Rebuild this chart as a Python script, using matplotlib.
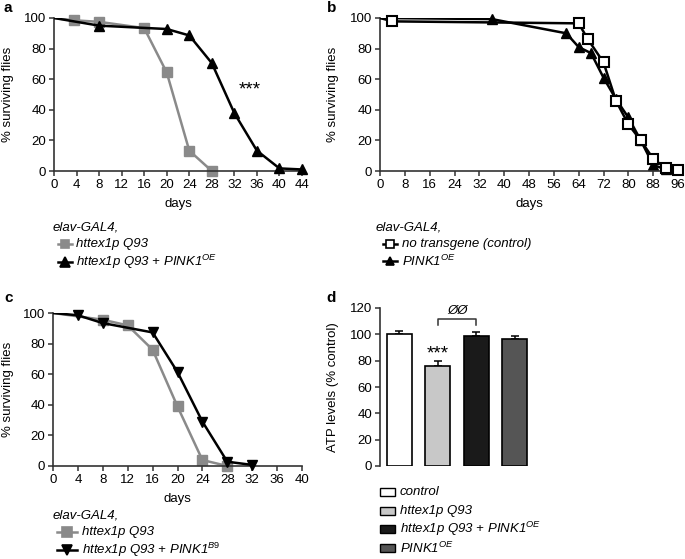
import numpy as np
import matplotlib
matplotlib.use("Agg")
import matplotlib.pyplot as plt
from matplotlib.lines import Line2D
from matplotlib.patches import Rectangle

plt.rcParams["font.family"] = ["Liberation Sans", "DejaVu Sans"]
plt.rcParams["mathtext.fontset"] = "custom"
plt.rcParams["mathtext.it"] = "Liberation Sans:italic"
plt.rcParams["mathtext.rm"] = "Liberation Sans"
plt.rcParams["font.size"] = 9.5

# panel a
a_q93_days = [0, 3.5, 8, 16, 20, 24, 28]
a_q93_surv = [100, 98.5, 97.5, 93.4, 64.4, 13.3, 0]
a_pink_days = [0, 8, 20, 24, 28, 32, 36, 40, 44]
a_pink_surv = [100, 95, 92.8, 88.6, 70.5, 37.8, 13.3, 1.7, 1.0]

# panel b
b_ctrl_days = [0, 4, 64, 67, 72, 76, 80, 84, 88, 92, 96]
b_ctrl_surv = [100, 97.8, 96.5, 86, 71, 46, 30.5, 20, 8, 2, 0.5]
b_pink_days = [0, 36, 60, 64, 68, 72, 76, 80, 84, 88, 92]
b_pink_surv = [100, 99.3, 90, 81, 77, 61, 47, 35, 20, 4, 1]

# panel c
c_q93_days = [0, 8, 12, 16, 20, 24, 28]
c_q93_surv = [100, 95.6, 91.9, 76, 38.9, 3.9, 0]
c_b9_days = [0, 4, 8, 16, 20, 24, 28, 32]
c_b9_surv = [100, 98.5, 93.4, 87.3, 61.4, 29, 2.8, 0.7]

# panel d
d_groups = ["control", "httex1p Q93", r"httex1p Q93 + PINK1$^{OE}$", r"PINK1$^{OE}$"]
d_atp = [100, 76, 99, 96.5]
d_err = [2.5, 4, 2.5, 2.5]
d_colors = ["white", "#c8c8c8", "#1a1a1a", "#555555"]

GREY = "#8a8a8a"
W, H = 685, 559
fig = plt.figure(figsize=(6.85, 5.59), dpi=100)


def px_axes(x0, x1, ytop, ybot):
    return fig.add_axes([x0 / W, 1 - ybot / H, (x1 - x0) / W, (ybot - ytop) / H])


def style(ax):
    for s in ["top", "right"]:
        ax.spines[s].set_visible(False)
    for s in ["left", "bottom"]:
        ax.spines[s].set_linewidth(1.2)
        ax.spines[s].set_color("#333333")
    ax.tick_params(direction="out", length=3.5, width=1.1, color="#333333", pad=2)


def fx(x):
    return x / W


def fy(y):
    return 1 - y / H


def legend_entry(x0, x1, y, text_x, text, color, marker, mfc, ms):
    fig.add_artist(Line2D([fx(x0), fx(x1)], [fy(y), fy(y)], color=color, lw=1.8,
                          transform=fig.transFigure))
    fig.add_artist(Line2D([fx((x0 + x1) / 2)], [fy(y)], color=color, marker=marker,
                          mfc=mfc, mec=color, ms=ms, mew=1.2, transform=fig.transFigure))
    fig.text(fx(text_x), fy(y), text, style="italic", va="center", ha="left", fontsize=9.5)


# ---- a ----
ax = px_axes(54, 302, 18, 171)
style(ax)
ax.plot(a_q93_days, a_q93_surv, color=GREY, lw=1.8, zorder=2)
ax.plot(a_q93_days[1:], a_q93_surv[1:], ls="none", marker="s", color=GREY, ms=6.5, clip_on=False, zorder=2)
ax.plot(a_pink_days, a_pink_surv, color="black", lw=1.8, zorder=3)
ax.plot(a_pink_days[1:], a_pink_surv[1:], ls="none", marker="^", color="black", ms=7.5, clip_on=False, zorder=3)
ax.set_xlim(0, 44)
ax.set_ylim(0, 100)
ax.set_xticks(np.arange(0, 45, 4))
ax.set_yticks(np.arange(0, 101, 20))
ax.set_xlabel("days", labelpad=5)
ax.set_ylabel("% surviving flies")
ax.yaxis.set_label_coords(-0.161, 0.5)
ax.text(34.8, 53, "***", ha="center", va="center", fontsize=13.5)

# ---- b ----
ax = px_axes(380, 678, 18, 171)
style(ax)
ax.plot(b_pink_days, b_pink_surv, color="black", lw=1.8, zorder=2)
ax.plot(b_pink_days[1:], b_pink_surv[1:], ls="none", marker="^", color="black", ms=6.5, clip_on=False, zorder=2)
ax.plot(b_ctrl_days, b_ctrl_surv, color="black", lw=1.8, zorder=3)
ax.plot(b_ctrl_days[1:], b_ctrl_surv[1:], ls="none", marker="s", mfc="white", mec="black", mew=1.5,
        ms=6.5, clip_on=False, zorder=3)
ax.set_xlim(0, 96)
ax.set_ylim(0, 100)
ax.set_xticks(np.arange(0, 97, 8))
ax.set_yticks(np.arange(0, 101, 20))
ax.set_xlabel("days", labelpad=5)
ax.set_ylabel("% surviving flies")
ax.yaxis.set_label_coords(-0.138, 0.5)

# ---- c ----
ax = px_axes(53, 302, 313, 466)
style(ax)
ax.plot(c_q93_days, c_q93_surv, color=GREY, lw=1.8, zorder=2)
ax.plot(c_q93_days[1:], c_q93_surv[1:], ls="none", marker="s", color=GREY, ms=6.5, clip_on=False, zorder=2)
ax.plot(c_b9_days, c_b9_surv, color="black", lw=1.8, zorder=3)
ax.plot(c_b9_days[1:], c_b9_surv[1:], ls="none", marker="v", color="black", ms=7.5, clip_on=False, zorder=3)
ax.set_xlim(0, 40)
ax.set_ylim(0, 100)
ax.set_xticks(np.arange(0, 41, 4))
ax.set_yticks(np.arange(0, 101, 20))
ax.set_xlabel("days", labelpad=5)
ax.set_ylabel("% surviving flies")
ax.yaxis.set_label_coords(-0.157, 0.5)

# ---- d ----
ax = px_axes(380, 540, 308, 466)
style(ax)
ax.spines["bottom"].set_visible(False)
xpos = np.arange(len(d_atp))
ax.bar(xpos, d_atp, width=0.65, color=d_colors, edgecolor="black", linewidth=1.2, zorder=2)
ax.errorbar(xpos, d_atp, yerr=[np.zeros(len(d_err)), d_err], fmt="none", ecolor="black",
            elinewidth=1.1, capsize=3, capthick=1.1, zorder=1)
ax.set_xlim(-0.506, 3.65)
ax.set_ylim(0, 120)
ax.set_xticks([])
ax.set_yticks(np.arange(0, 121, 20))
ax.set_ylabel("ATP levels (% control)")
ax.yaxis.set_label_coords(-0.256, 0.5)
ax.text(1, 85, "***", ha="center", va="center", fontsize=13.5)
ax.plot([1, 1, 2, 2], [107, 112, 112, 107], color="#333333", lw=1.1, clip_on=False)
ax.text(1.5, 113, "ØØ", ha="center", va="bottom", style="italic", fontsize=9.5)

# ---- legends ----
fig.text(fx(53), fy(227), "elav-GAL4,", style="italic", va="center", fontsize=9.5)
legend_entry(58, 72, 244, 76, "httex1p Q93", GREY, "s", GREY, 6)
legend_entry(58, 72, 262, 76, r"httex1p Q93 + PINK1$^{OE}$", "black", "^", "black", 6.5)

fig.text(fx(376), fy(227), "elav-GAL4,", style="italic", va="center", fontsize=9.5)
legend_entry(383, 397, 244, 402, "no transgene (control)", "black", "s", "white", 6)
legend_entry(383, 397, 261, 402, r"PINK1$^{OE}$", "black", "^", "black", 6)

fig.text(fx(53), fy(515), "elav-GAL4,", style="italic", va="center", fontsize=9.5)
legend_entry(57, 77, 532, 82, "httex1p Q93", GREY, "s", GREY, 6.5)
legend_entry(57, 77, 550, 82, r"httex1p Q93 + PINK1$^{B9}$", "black", "v", "black", 7.5)

for lbl, col, y in zip(d_groups, d_colors, [492, 511, 529, 548]):
    fig.add_artist(Rectangle((fx(380), fy(y + 4)), fx(15), 8 / H, facecolor=col,
                             edgecolor="black", lw=1.0, transform=fig.transFigure))
    fig.text(fx(400), fy(y), lbl, style="italic", va="center", fontsize=9.5)

# panel letters
for letter, x, y in [("a", 4, 8), ("b", 327, 8), ("c", 4, 298), ("d", 326, 298)]:
    fig.text(fx(x), fy(y), letter, fontweight="bold", fontsize=11, va="center")

fig.savefig("out.png", dpi=100)
